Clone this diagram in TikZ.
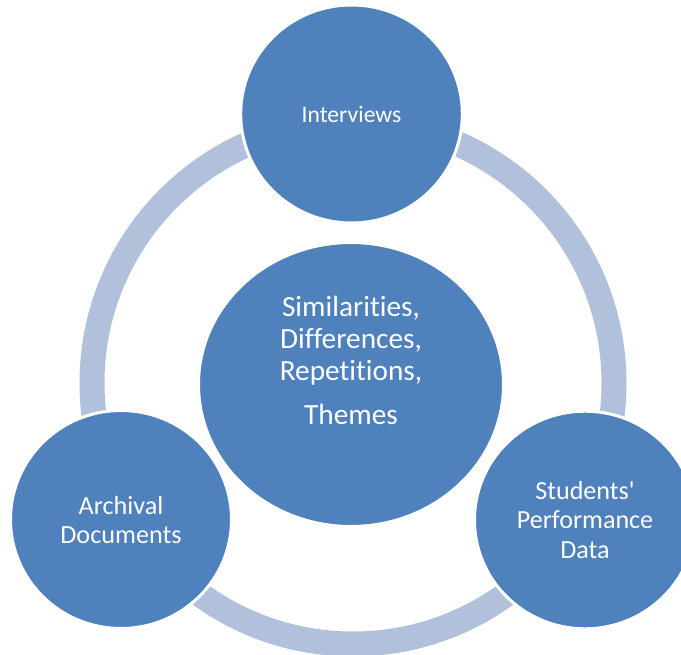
\documentclass[tikz,border=0pt]{standalone}
\usepackage{fontspec}
\setmainfont{Carlito}[Ligatures={CommonOff,TeXOff}]
\usetikzlibrary{shapes.geometric}
\definecolor{bubble}{HTML}{4F81BD}
\definecolor{ringc}{HTML}{B2C1DB}
\tikzset{
  bubblenode/.style={ellipse, fill=bubble, draw=white, line width=3pt,
    inner sep=0pt, outer sep=0pt, text=white, align=center},
  ringline/.style={draw=ringc, line width=25pt},
  centertext/.style={text=white, align=center, inner sep=0pt,
    font=\fontsize{29.3}{32}\selectfont},
}
\begin{document}
\begin{tikzpicture}[x=1pt,y=-1pt]
\useasboundingbox (0,0) rectangle (681,655);
\coordinate (rc) at (353,383);
\draw[ringline] (rc) circle[radius=261pt];
\node[bubblenode, minimum width=221.6pt, minimum height=218pt,
  font=\fontsize{23.6}{28}\selectfont] (int) at (351.5,114) {Interviews};
\node[bubblenode, minimum width=305pt, minimum height=284pt] (mid) at (351,384.5) {};
\node[centertext] (midtext) at (351,360) {Similarities,\\Differences,\\Repetitions,\\[12pt]Themes};
\node[bubblenode, minimum width=221pt, minimum height=218pt,
  font=\fontsize{26.2}{29}\selectfont] (arch) at (121,519.5) {Archival\\Documents};
\node[bubblenode, minimum width=221pt, minimum height=217.6pt,
  font=\fontsize{26.1}{29.5}\selectfont] (perf) at (585,520) {Students'\\Performance\\Data};
\end{tikzpicture}
\end{document}
